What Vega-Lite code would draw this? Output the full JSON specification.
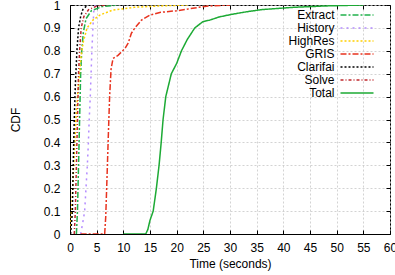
{
  "$schema": "https://vega.github.io/schema/vega-lite/v6.json",
  "width": 320,
  "height": 229,
  "autosize": {"type": "none"},
  "padding": {"left": 70, "top": 5, "right": 5, "bottom": 41},
  "config": {
    "font": "Liberation Sans",
    "view": {"stroke": "black", "strokeWidth": 1}
  },
  "data": {"values": [
    {"series":"Extract","t":1.2,"cdf":0},{"series":"Extract","t":1.4,"cdf":0.1},{"series":"Extract","t":1.6,"cdf":0.3},{"series":"Extract","t":1.8,"cdf":0.5},{"series":"Extract","t":2.0,"cdf":0.7},{"series":"Extract","t":2.2,"cdf":0.8},{"series":"Extract","t":2.5,"cdf":0.88},{"series":"Extract","t":3.0,"cdf":0.94},{"series":"Extract","t":4.0,"cdf":0.975},{"series":"Extract","t":6,"cdf":0.993},{"series":"Extract","t":9,"cdf":1.0},
    {"series":"History","t":2.0,"cdf":0},{"series":"History","t":2.4,"cdf":0.05},{"series":"History","t":2.75,"cdf":0.1},{"series":"History","t":3.0,"cdf":0.2},{"series":"History","t":3.25,"cdf":0.3},{"series":"History","t":3.45,"cdf":0.4},{"series":"History","t":3.6,"cdf":0.5},{"series":"History","t":3.8,"cdf":0.6},{"series":"History","t":3.95,"cdf":0.7},{"series":"History","t":4.1,"cdf":0.8},{"series":"History","t":4.3,"cdf":0.9},{"series":"History","t":4.45,"cdf":0.97},{"series":"History","t":4.7,"cdf":1.0},
    {"series":"HighRes","t":0,"cdf":0},{"series":"HighRes","t":0.3,"cdf":0.1},{"series":"HighRes","t":0.5,"cdf":0.2},{"series":"HighRes","t":0.8,"cdf":0.35},{"series":"HighRes","t":1.1,"cdf":0.5},{"series":"HighRes","t":1.4,"cdf":0.6},{"series":"HighRes","t":1.7,"cdf":0.68},{"series":"HighRes","t":2.1,"cdf":0.78},{"series":"HighRes","t":2.5,"cdf":0.84},{"series":"HighRes","t":3.2,"cdf":0.9},{"series":"HighRes","t":4.3,"cdf":0.934},{"series":"HighRes","t":5.6,"cdf":0.956},{"series":"HighRes","t":8,"cdf":0.978},{"series":"HighRes","t":12,"cdf":0.99},{"series":"HighRes","t":17,"cdf":0.996},{"series":"HighRes","t":22,"cdf":1.0},
    {"series":"GRIS","t":2,"cdf":0},{"series":"GRIS","t":6.5,"cdf":0},{"series":"GRIS","t":6.7,"cdf":0.075},{"series":"GRIS","t":7.0,"cdf":0.29},{"series":"GRIS","t":7.2,"cdf":0.44},{"series":"GRIS","t":7.43,"cdf":0.6},{"series":"GRIS","t":7.7,"cdf":0.72},{"series":"GRIS","t":8.07,"cdf":0.767},{"series":"GRIS","t":9.0,"cdf":0.78},{"series":"GRIS","t":10.3,"cdf":0.81},{"series":"GRIS","t":10.9,"cdf":0.833},{"series":"GRIS","t":11.5,"cdf":0.876},{"series":"GRIS","t":12.1,"cdf":0.898},{"series":"GRIS","t":13.4,"cdf":0.934},{"series":"GRIS","t":15.0,"cdf":0.956},{"series":"GRIS","t":17,"cdf":0.968},{"series":"GRIS","t":20,"cdf":0.975},{"series":"GRIS","t":25.6,"cdf":0.995},{"series":"GRIS","t":30,"cdf":1.0},
    {"series":"Clarifai","t":0.1,"cdf":0},{"series":"Clarifai","t":0.3,"cdf":0.05},{"series":"Clarifai","t":0.45,"cdf":0.1},{"series":"Clarifai","t":0.6,"cdf":0.3},{"series":"Clarifai","t":0.8,"cdf":0.5},{"series":"Clarifai","t":1.0,"cdf":0.65},{"series":"Clarifai","t":1.3,"cdf":0.8},{"series":"Clarifai","t":1.6,"cdf":0.9},{"series":"Clarifai","t":2.0,"cdf":0.95},{"series":"Clarifai","t":2.4,"cdf":0.98},{"series":"Clarifai","t":3.3,"cdf":1.0},
    {"series":"Solve","t":0.8,"cdf":0},{"series":"Solve","t":1.0,"cdf":0.1},{"series":"Solve","t":1.2,"cdf":0.3},{"series":"Solve","t":1.4,"cdf":0.5},{"series":"Solve","t":1.6,"cdf":0.7},{"series":"Solve","t":1.8,"cdf":0.8},{"series":"Solve","t":2.1,"cdf":0.9},{"series":"Solve","t":2.6,"cdf":0.95},{"series":"Solve","t":3.5,"cdf":0.98},{"series":"Solve","t":5,"cdf":0.995},{"series":"Solve","t":7,"cdf":1.0},
    {"series":"Total","t":10,"cdf":0},{"series":"Total","t":14.2,"cdf":0},{"series":"Total","t":14.6,"cdf":0.02},{"series":"Total","t":15.0,"cdf":0.06},{"series":"Total","t":15.6,"cdf":0.1},{"series":"Total","t":16.2,"cdf":0.2},{"series":"Total","t":16.7,"cdf":0.3},{"series":"Total","t":17.1,"cdf":0.4},{"series":"Total","t":17.45,"cdf":0.5},{"series":"Total","t":17.96,"cdf":0.6},{"series":"Total","t":19.0,"cdf":0.7},{"series":"Total","t":20.0,"cdf":0.745},{"series":"Total","t":20.9,"cdf":0.8},{"series":"Total","t":22,"cdf":0.85},{"series":"Total","t":23.4,"cdf":0.9},{"series":"Total","t":24.9,"cdf":0.927},{"series":"Total","t":26.2,"cdf":0.934},{"series":"Total","t":28,"cdf":0.948},{"series":"Total","t":30.5,"cdf":0.96},{"series":"Total","t":33,"cdf":0.97},{"series":"Total","t":36,"cdf":0.98},{"series":"Total","t":42,"cdf":0.99},{"series":"Total","t":48,"cdf":0.996},{"series":"Total","t":55,"cdf":1.0}
  ]},
  "resolve": {"axis": {"x": "independent", "y": "independent"}},
  "layer": [
    {
      "mark": {"type": "line", "strokeWidth": 1.5, "clip": true},
      "encoding": {
        "x": {"field": "t", "type": "quantitative", "scale": {"domain": [0, 60], "nice": false},
          "axis": {"title": "Time (seconds)", "values": [0,5,10,15,20,25,30,35,40,45,50,55,60], "tickSize": -4, "labelPadding": 12, "labelFontSize": 12, "labelColor": "black", "titleFontSize": 12, "titleFontWeight": "normal", "titleColor": "black", "titlePadding": 5, "domainColor": "black", "tickColor": "black", "gridColor": "#c8c8c8", "gridDash": [2, 2], "gridWidth": 0.8, "labelFlush": false}},
        "y": {"field": "cdf", "type": "quantitative", "scale": {"domain": [0, 1], "nice": false},
          "axis": {"title": "CDF", "format": "~g", "values": [0,0.1,0.2,0.3,0.4,0.5,0.6,0.7,0.8,0.9,1], "tickSize": -4, "labelPadding": 14, "labelFontSize": 12, "labelColor": "black", "titleFontSize": 12, "titleFontWeight": "normal", "titleColor": "black", "titlePadding": 21, "domainColor": "black", "tickColor": "black", "gridColor": "#c8c8c8", "gridDash": [2, 2], "gridWidth": 0.8, "labelFlush": false}},
        "color": {"field": "series", "type": "nominal",
          "scale": {"domain": ["Extract","History","HighRes","GRIS","Clarifai","Solve","Total"],
                    "range": ["#22b14c","#b48cff","#ffd000","#e8331f","#000000","#c0282d","#1daa35"]},
          "legend": {"title": null, "orient": "none", "legendX": 280, "legendY": 3, "symbolType": "M-2.75,0H2.75", "symbolSize": 144, "symbolStrokeWidth": 1.5, "symbolFillColor": "transparent", "rowPadding": -1.5, "padding": 0, "labelAlign": "right", "labelOffset": -29.5, "labelFontSize": 12, "labelColor": "black", "labelLimit": 200}},
        "strokeDash": {"field": "series", "type": "nominal",
          "scale": {"domain": ["Extract","History","HighRes","GRIS","Clarifai","Solve","Total"],
                    "range": [[6,2,2,2],[2,4],[2,2],[6,2,2,2],[2,2],[3,2,1,2],[1,0]]},
          "legend": {"title": null, "orient": "none", "legendX": 280, "legendY": 3, "symbolType": "M-2.75,0H2.75", "symbolSize": 144, "symbolStrokeWidth": 1.5, "symbolFillColor": "transparent", "rowPadding": -1.5, "padding": 0, "labelAlign": "right", "labelOffset": -29.5, "labelFontSize": 12, "labelColor": "black", "labelLimit": 200}}
      }
    },
    {
      "mark": {"type": "point", "opacity": 0},
      "encoding": {
        "x": {"field": "t", "type": "quantitative", "scale": {"domain": [0, 60], "nice": false},
          "axis": {"orient": "top", "title": null, "labels": false, "grid": false, "domain": false, "values": [0,5,10,15,20,25,30,35,40,45,50,55,60], "tickSize": -4, "tickColor": "black"}},
        "y": {"field": "cdf", "type": "quantitative", "scale": {"domain": [0, 1], "nice": false},
          "axis": {"orient": "right", "title": null, "labels": false, "grid": false, "domain": false, "values": [0,0.1,0.2,0.3,0.4,0.5,0.6,0.7,0.8,0.9,1], "tickSize": -4, "tickColor": "black"}}
      }
    }
  ]
}
